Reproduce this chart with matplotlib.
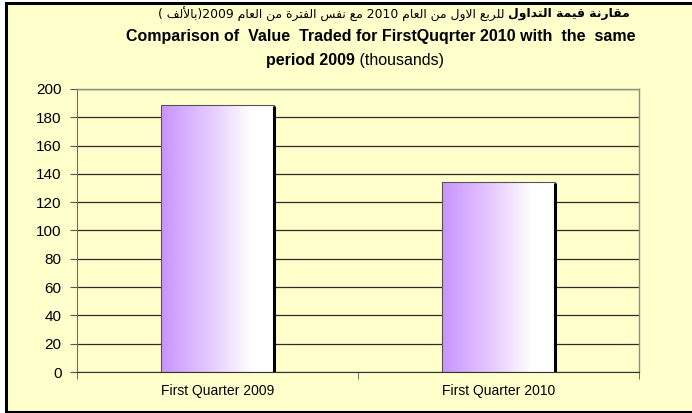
import re
import numpy as np
import matplotlib
matplotlib.use("Agg")
import matplotlib.pyplot as plt
from matplotlib.patches import Rectangle
from matplotlib.colors import LinearSegmentedColormap

# data
categories = ["First Quarter 2009", "First Quarter 2010"]
values = [188.7, 134.5]
yticks = [0, 20, 40, 60, 80, 100, 120, 140, 160, 180, 200]

title_ar_bold = "مقارنة قيمة التداول"
title_ar_rest = " للربع الاول من العام 2010 مع نفس الفترة من العام 2009(بالألف )"
title_en1 = "Comparison of  Value  Traded for FirstQuqrter 2010 with  the  same"
title_en2_bold = "period 2009"
title_en2_rest = " (thousands)"

# --- tiny arabic shaper (presentation forms + visual order) ---
FORMS = {
    'ا': ('\uFE8D', '\uFE8E', None, None),
    'أ': ('\uFE83', '\uFE84', None, None),
    'ب': ('\uFE8F', '\uFE90', '\uFE91', '\uFE92'),
    'ة': ('\uFE93', '\uFE94', None, None),
    'ت': ('\uFE95', '\uFE96', '\uFE97', '\uFE98'),
    'د': ('\uFEA9', '\uFEAA', None, None),
    'ر': ('\uFEAD', '\uFEAE', None, None),
    'س': ('\uFEB1', '\uFEB2', '\uFEB3', '\uFEB4'),
    'ع': ('\uFEC9', '\uFECA', '\uFECB', '\uFECC'),
    'ف': ('\uFED1', '\uFED2', '\uFED3', '\uFED4'),
    'ق': ('\uFED5', '\uFED6', '\uFED7', '\uFED8'),
    'ل': ('\uFEDD', '\uFEDE', '\uFEDF', '\uFEE0'),
    'م': ('\uFEE1', '\uFEE2', '\uFEE3', '\uFEE4'),
    'ن': ('\uFEE5', '\uFEE6', '\uFEE7', '\uFEE8'),
    'و': ('\uFEED', '\uFEEE', None, None),
    'ي': ('\uFEF1', '\uFEF2', '\uFEF3', '\uFEF4'),
}
LAM_ALEF = {'ا': ('\uFEFB', '\uFEFC'), 'أ': ('\uFEF7', '\uFEF8')}


def shape_word(w):
    letters = []
    i = 0
    while i < len(w):
        if w[i] == 'ل' and i + 1 < len(w) and w[i + 1] in LAM_ALEF:
            letters.append(('LA', w[i + 1]))
            i += 2
        else:
            letters.append(('C', w[i]))
            i += 1
    out = []
    for k, (kind, c) in enumerate(letters):
        prev = letters[k - 1] if k > 0 else None
        jp = prev is not None and prev[0] == 'C' and FORMS[prev[1]][2] is not None
        if kind == 'LA':
            out.append(LAM_ALEF[c][1 if jp else 0])
            continue
        f = FORMS[c]
        jn = k + 1 < len(letters) and f[2] is not None
        if jp and jn:
            out.append(f[3])
        elif jp:
            out.append(f[1])
        elif jn:
            out.append(f[2])
        else:
            out.append(f[0])
    return ''.join(out)


def visual(text):
    toks = re.findall(r'[\u0600-\u06FF]+|[0-9]+|\s|.', text)
    res = []
    for t in toks:
        if re.match(r'[\u0600-\u06FF]', t):
            res.append(shape_word(t)[::-1])
        elif t == '(':
            res.append(')')
        elif t == ')':
            res.append('(')
        else:
            res.append(t)
    return ''.join(res[::-1])


W, H = 692, 413
bg = '#FFFFCC'
fig = plt.figure(figsize=(W / 100, H / 100), dpi=100, facecolor='white')

# chart frame
fig.patches.append(Rectangle((6 / W, 1.5 / H), 1.0, (410 - 1.5) / H, transform=fig.transFigure,
                             facecolor=bg, edgecolor='black', linewidth=2.2, zorder=-1))

ax = fig.add_axes([77 / W, (H - 372) / H, (639 - 77) / W, (372 - 89) / H])
ax.set_zorder(1)
ax.set_facecolor(bg)

x = np.arange(len(categories))
bars = ax.bar(x, values, width=0.4, color='none', edgecolor='#555555', linewidth=0.8, zorder=3)

cmap = LinearSegmentedColormap.from_list('lav', [(0, '#C894FF'), (0.45, '#E6CCFF'), (0.8, '#FFFFFF'), (1, '#FFFFFF')])
grad = np.linspace(0, 1, 256).reshape(1, -1)
for b in bars:
    x0, y0 = b.get_x(), b.get_y()
    w, h = b.get_width(), b.get_height()
    im = ax.imshow(grad, cmap=cmap, aspect='auto', extent=(x0, x0 + w, y0, y0 + h), zorder=2)
    im.set_clip_path(b)
    # shadow on right edge
    ax.plot([x0 + w, x0 + w], [y0, y0 + h * 0.995], color='black', linewidth=2.2, zorder=4,
            solid_capstyle='butt')

ax.set_xlim(-0.5, len(categories) - 0.5)
ax.set_ylim(0, 200)
ax.set_yticks(yticks)
ax.yaxis.grid(True, color='#2b2b2b', linewidth=0.9)
ax.set_axisbelow(True)

for s in ['top', 'right']:
    ax.spines[s].set_color('#8c8c8c')
    ax.spines[s].set_linewidth(1.0)
ax.spines['left'].set_color('#6e6e6e')
ax.spines['bottom'].set_color('#333333')

ax.set_xticks(x)
ax.set_xticklabels(categories, fontsize=10, family='Liberation Sans')
ax.tick_params(axis='x', length=0, pad=9)
ax.set_xticks([-0.5, 0.5, 1.5], minor=True)
ax.tick_params(axis='x', which='minor', length=5, direction='out', color='#555555')
ax.tick_params(axis='y', length=5, direction='out', color='#555555', labelsize=11, pad=6)
for lab in ax.get_yticklabels():
    lab.set_family('Liberation Sans')

# titles
renderer = fig.canvas.get_renderer()

ar_size = 8.9
t_bold = fig.text(630 / W, 1 - 14 / H, visual(title_ar_bold), ha='right', va='center',
                  fontsize=ar_size, fontweight='bold', family='DejaVu Sans')
bw = t_bold.get_window_extent(renderer).width
fig.text((630 - bw) / W, 1 - 14 / H, visual(title_ar_rest), ha='right', va='center',
         fontsize=ar_size, family='DejaVu Sans')

fig.text(381 / W, 1 - 36 / H, title_en1, ha='center', va='center', fontsize=11.5,
         fontweight='bold', family='Liberation Sans')

t2a = fig.text(0, 1 - 60 / H, title_en2_bold, ha='left', va='center', fontsize=11.5,
               fontweight='bold', family='Liberation Sans')
t2b = fig.text(0, 1 - 60 / H, title_en2_rest, ha='left', va='center', fontsize=11.5,
               family='Liberation Sans')
wa = t2a.get_window_extent(renderer).width
wb = t2b.get_window_extent(renderer).width
start = 355 - (wa + wb) / 2
t2a.set_x(start / W)
t2b.set_x((start + wa) / W)

fig.savefig('out.png', dpi=100, facecolor='white')
